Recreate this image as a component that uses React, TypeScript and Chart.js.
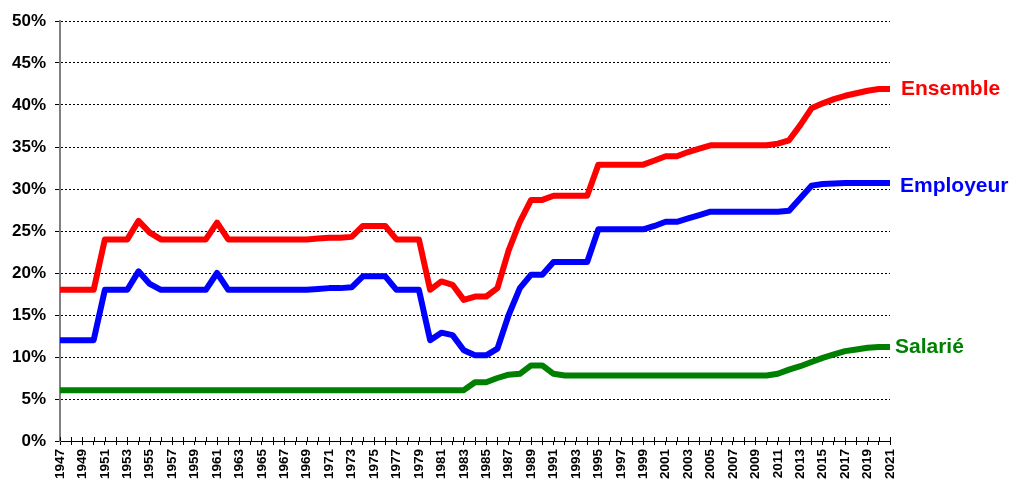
import React, { useEffect, useRef } from "react";
import { Chart, registerables } from "chart.js";

Chart.register(...registerables);

const years: string[] = [];
for (let y = 1947; y <= 2021; y++) years.push(String(y));

const ensemble = [
  18, 18, 18, 18, 24, 24, 24, 26.2, 24.8, 24, 24, 24, 24, 24, 26, 24, 24, 24, 24, 24, 24, 24, 24,
  24.1, 24.2, 24.2, 24.3, 25.6, 25.6, 25.6, 24, 24, 24, 18, 19, 18.6, 16.8, 17.2, 17.2, 18.2, 22.7,
  26.1, 28.7, 28.7, 29.2, 29.2, 29.2, 29.2, 32.9, 32.9, 32.9, 32.9, 32.9, 33.4, 33.9, 33.9, 34.4,
  34.8, 35.2, 35.2, 35.2, 35.2, 35.2, 35.2, 35.4, 35.8, 37.6, 39.6, 40.2, 40.7, 41.1, 41.4, 41.7,
  41.9, 41.9,
];

const employeur = [
  12, 12, 12, 12, 18, 18, 18, 20.2, 18.7, 18, 18, 18, 18, 18, 20, 18, 18, 18, 18, 18, 18, 18, 18,
  18.1, 18.2, 18.2, 18.3, 19.6, 19.6, 19.6, 18, 18, 18, 12, 12.9, 12.6, 10.8, 10.2, 10.2, 11, 15,
  18.2, 19.8, 19.8, 21.3, 21.3, 21.3, 21.3, 25.2, 25.2, 25.2, 25.2, 25.2, 25.6, 26.1, 26.1, 26.5,
  26.9, 27.3, 27.3, 27.3, 27.3, 27.3, 27.3, 27.3, 27.4, 28.9, 30.4, 30.6, 30.65, 30.7, 30.7, 30.7,
  30.7, 30.7,
];

const salarie = [
  6.05, 6.05, 6.05, 6.05, 6.05, 6.05, 6.05, 6.05, 6.05, 6.05, 6.05, 6.05, 6.05, 6.05, 6.05, 6.05,
  6.05, 6.05, 6.05, 6.05, 6.05, 6.05, 6.05, 6.05, 6.05, 6.05, 6.05, 6.05, 6.05, 6.05, 6.05, 6.05,
  6.05, 6.05, 6.05, 6.05, 6.05, 7, 7, 7.5, 7.9, 8, 9, 9, 8, 7.8, 7.8, 7.8, 7.8, 7.8, 7.8, 7.8, 7.8,
  7.8, 7.8, 7.8, 7.8, 7.8, 7.8, 7.8, 7.8, 7.8, 7.8, 7.8, 8.0, 8.5, 8.9, 9.4, 9.9, 10.3, 10.7, 10.9,
  11.1, 11.2, 11.2,
];

const seriesNames = ["Ensemble", "Employeur", "Salarié"];
const seriesColors = ["#FF0000", "#0000FF", "#008000"];

const FONT = '"Liberation Sans", Arial, sans-serif';

const endLabels = {
  id: "endLabels",
  afterDatasetsDraw(chart: any) {
    const { ctx, chartArea, scales } = chart;
    const dx = [11, 10, 5];
    const dy = [0, 3, 0];
    ctx.save();
    ctx.font = `bold 21px ${FONT}`;
    ctx.textAlign = "left";
    ctx.textBaseline = "middle";
    chart.data.datasets.forEach((ds: any, i: number) => {
      const v = ds.data[ds.data.length - 1];
      ctx.fillStyle = ds.borderColor;
      ctx.fillText(ds.label, chartArea.right + dx[i], scales.y.getPixelForValue(v) + dy[i]);
    });
    ctx.restore();
  },
};

const crossTicks = {
  id: "crossTicks",
  afterDraw(chart: any) {
    const { ctx, chartArea, scales } = chart;
    const xs = scales.x;
    ctx.save();
    ctx.strokeStyle = "#000";
    ctx.lineWidth = 1;
    ctx.beginPath();
    for (let i = 0; i < xs.ticks.length; i++) {
      const x = Math.round(xs.getPixelForTick(i)) + 0.5;
      ctx.moveTo(x, chartArea.bottom - 4);
      ctx.lineTo(x, chartArea.bottom);
    }
    ctx.stroke();
    ctx.restore();
  },
};

export default function App() {
  const ref = useRef<HTMLCanvasElement>(null);

  useEffect(() => {
    if (!ref.current) return;
    const values = [ensemble, employeur, salarie];
    const chart = new Chart(ref.current, {
      type: "line",
      data: {
        labels: years,
        datasets: values.map((d, i) => ({
          label: seriesNames[i],
          data: d,
          borderColor: seriesColors[i],
          backgroundColor: seriesColors[i],
          borderWidth: 6,
          pointRadius: 0,
          tension: 0,
          borderJoinStyle: "round" as const,
          fill: false,
        })),
      },
      options: {
        animation: false,
        responsive: false,
        maintainAspectRatio: false,
        layout: { padding: { top: 21, right: 125, left: 0, bottom: 0 } },
        plugins: {
          legend: { display: false },
          tooltip: { enabled: false },
        },
        scales: {
          x: {
            type: "category",
            offset: false,
            afterFit: (s: any) => {
              s.height = 43;
            },
            grid: {
              display: true,
              drawOnChartArea: false,
              drawTicks: true,
              tickLength: 4,
              color: "#000",
            },
            border: { display: true, color: "#000", width: 1 },
            ticks: {
              autoSkip: false,
              maxRotation: 90,
              minRotation: 90,
              padding: 4,
              color: "#000",
              font: { family: FONT, size: 13.5, weight: "bold" },
              callback: (_v: any, i: number) => (i % 2 === 0 ? years[i] : ""),
            },
          },
          y: {
            min: 0,
            max: 50,
            afterFit: (s: any) => {
              s.width = 60;
            },
            grid: {
              color: "#000",
              lineWidth: 1,
              tickLength: 5,
              tickColor: "#000",
              tickBorderDash: [],
            },
            border: { display: true, color: "#808080", width: 2, dash: [2, 2] },
            ticks: {
              stepSize: 5,
              padding: 9,
              color: "#000",
              font: { family: FONT, size: 17, weight: "bold" },
              callback: (v: any) => `${v}%`,
            },
          },
        },
      },
      plugins: [endLabels, crossTicks],
    });
    return () => chart.destroy();
  }, []);

  return (
    <div style={{ position: "fixed", left: 0, top: 0, width: 1015, height: 484, background: "#fff" }}>
      <canvas ref={ref} width={1015} height={484} style={{ width: 1015, height: 484 }} />
    </div>
  );
}
